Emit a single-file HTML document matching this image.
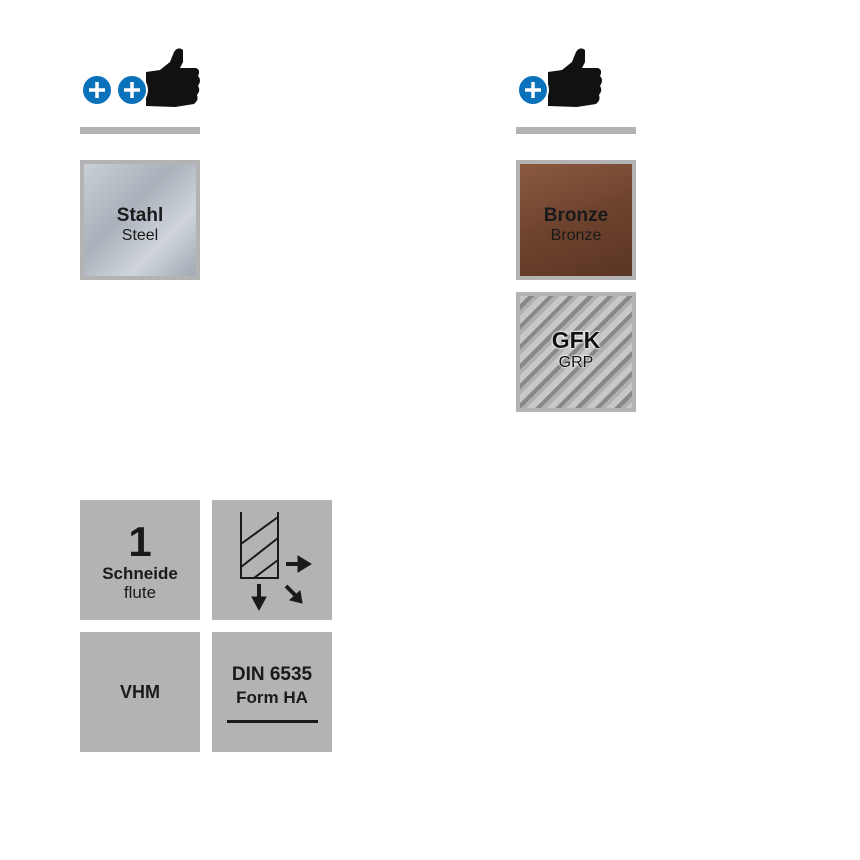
<!DOCTYPE html>
<html><head><meta charset="utf-8"><style>
body{margin:0;width:860px;height:860px;background:#fff;position:relative;overflow:hidden;font-family:"Liberation Sans",sans-serif}
.a{position:absolute}
.bar{position:absolute;height:7px;width:120px;background:#b3b3b3;top:127px}
.box{position:absolute;width:120px;height:120px;background:#b3b3b3;color:#1a1a1a;text-align:center;box-sizing:border-box}
.mat{position:absolute;width:120px;height:120px;box-sizing:border-box;border:4px solid #b3b3b3;text-align:center}
</style></head><body>
<svg class="a" style="left:0;top:0" width="860" height="130">
<g id="t">
<path d="M146,72 L160,70 L170,62 L174,52 Q178,46 183,50 L183,62 L180,68 L196,68 Q201,70 198,76 Q202,80 198,86 Q201,90 197,95 Q199,100 194,104 L175,107 L146,106 Z" fill="#111"/>
</g>
<use href="#t" x="402"/>
<g stroke="#fff" stroke-width="2">
<circle cx="97" cy="90" r="15" fill="#0a72bb"/><circle cx="132" cy="90" r="15" fill="#0a72bb"/><circle cx="533" cy="90" r="15" fill="#0a72bb"/>
</g>
<g stroke="#fff" stroke-width="3.5">
<path d="M89,90h16M97,82v16M124,90h16M132,82v16M525,90h16M533,82v16"/>
</g>
</svg>
<div class="bar" style="left:80px"></div>
<div class="bar" style="left:516px"></div>
<div class="mat" style="left:80px;top:160px;background:linear-gradient(135deg,#c9cfd6,#aab1ba 40%,#d0d5dc 70%,#a0a8b2)">
<div style="margin-top:41px;font-weight:bold;font-size:19px;color:#1a1a1a">Stahl</div>
<div style="font-size:16px;color:#1a1a1a">Steel</div></div>
<div class="mat" style="left:516px;top:160px;background:linear-gradient(160deg,#8a5a40,#6e432e 50%,#5a3523)">
<div style="margin-top:41px;font-weight:bold;font-size:19px;color:#1a1a1a">Bronze</div>
<div style="font-size:16px;color:#1a1a1a">Bronze</div></div>
<div class="mat" style="left:516px;top:292px;background:repeating-linear-gradient(135deg,#c8c8c8 0 6px,#888 6px 10px,#b0b0b0 10px 14px),#aaa">
<div style="margin-top:31px;font-weight:bold;font-size:23px;color:#111;text-shadow:0 0 2px #fff,0 0 2px #fff,0 0 2px #fff">GFK</div>
<div style="font-size:16px;color:#111;text-shadow:0 0 2px #fff,0 0 2px #fff">GRP</div></div>
<div class="box" style="left:80px;top:500px">
<div style="margin-top:20px;font-weight:bold;font-size:42px;line-height:44px">1</div>
<div style="font-weight:bold;font-size:17px;line-height:19px">Schneide</div>
<div style="font-size:17px;line-height:19px">flute</div></div>
<div class="box" style="left:212px;top:500px">
<svg width="120" height="120"><g fill="none" stroke="#1a1a1a" stroke-width="2"><path d="M29,12V78H66V12M29,44L66,17M29,67L66,38M42,78L66,60"/></g>
<g fill="#1a1a1a" stroke="#1a1a1a"><path d="M74,64H88" stroke-width="4"/><path d="M86,56L99,64L86,72Z"/><path d="M47,84V100" stroke-width="4"/><path d="M40,97L47,110L54,97Z"/><path d="M74,86L84,96" stroke-width="4"/><path d="M78,100L90,103L88,91Z"/></g></svg></div>
<div class="box" style="left:80px;top:632px;font-weight:bold;font-size:18px;line-height:120px">VHM</div>
<div class="box" style="left:212px;top:632px;font-weight:bold">
<div style="margin-top:31px;font-size:19px;line-height:24px">DIN 6535</div>
<div style="font-size:17px;line-height:22px">Form HA</div>
<div style="margin:11px auto 0;width:91px;height:3px;background:#1a1a1a"></div></div>
</body></html>
